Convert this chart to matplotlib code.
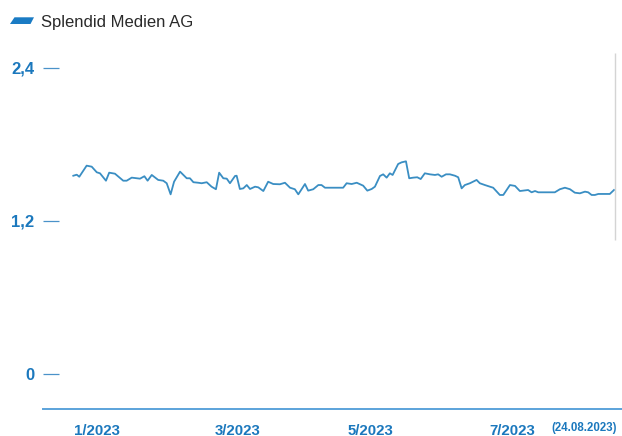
import matplotlib
matplotlib.use("Agg")
import matplotlib.pyplot as plt
import matplotlib.transforms as mtrans
from matplotlib.patches import Polygon
from matplotlib import font_manager

# ---- data (days since 2 Jan 2023, share price in EUR) ----
days = [0, 1.5, 2.6, 5.8, 8.0, 10.2, 11.6, 14.2, 15.6, 18.1, 21.7, 23.2, 25.4, 29.0,
        30.9, 32.3, 34.1, 36.9, 39.1, 40.6, 42.3, 43.8, 46.4, 49.3, 50.7, 52.2, 54.3,
        55.8, 58.0, 60.1, 62.0, 63.4, 65.2, 66.7, 68.1, 70.3, 71.0, 72.4, 73.9, 75.4,
        76.8, 79.0, 80.4, 82.6, 84.7, 86.9, 89.8, 92.0, 94.2, 96.3, 97.8, 100.7, 102.1,
        104.3, 106.5, 107.9, 109.4, 115.9, 117.3, 118.8, 121.0, 123.2, 126.0, 127.8,
        129.7, 131.1, 133.3, 134.7, 136.2, 137.6, 138.8, 141.2, 142.7, 144.6, 146.0,
        147.8, 149.5, 151.0, 152.8, 155.0, 157.2, 158.6, 160.1, 162.0, 163.7, 165.9,
        167.3, 168.8, 170.2, 172.4, 175.3, 176.7, 178.9, 181.1, 182.5, 185.4, 186.9,
        189.8, 192.0, 194.1, 197.7, 199.2, 200.7, 202.1, 209.3, 211.5, 213.7, 215.9,
        218.0, 220.2, 222.4, 223.8, 225.3, 226.7, 228.2, 233.2, 235.0]
prices = [1.555, 1.563, 1.547, 1.634, 1.626, 1.582, 1.574, 1.516, 1.579, 1.571, 1.516,
          1.516, 1.540, 1.532, 1.551, 1.516, 1.561, 1.522, 1.516, 1.496, 1.409, 1.508,
          1.587, 1.535, 1.535, 1.504, 1.500, 1.496, 1.504, 1.469, 1.449, 1.579, 1.535,
          1.532, 1.496, 1.553, 1.555, 1.451, 1.456, 1.482, 1.451, 1.469, 1.464, 1.435,
          1.508, 1.490, 1.488, 1.500, 1.461, 1.449, 1.409, 1.490, 1.438, 1.449, 1.482,
          1.482, 1.461, 1.461, 1.461, 1.496, 1.490, 1.500, 1.477, 1.438, 1.451, 1.469,
          1.553, 1.566, 1.540, 1.574, 1.561, 1.647, 1.660, 1.668, 1.535, 1.540, 1.543,
          1.529, 1.574, 1.566, 1.561, 1.566, 1.547, 1.566, 1.566, 1.555, 1.543, 1.456,
          1.482, 1.496, 1.522, 1.496, 1.482, 1.469, 1.461, 1.404, 1.404, 1.482, 1.475,
          1.435, 1.443, 1.425, 1.435, 1.425, 1.425, 1.449, 1.461, 1.449, 1.422, 1.417,
          1.430, 1.425, 1.404, 1.404, 1.412, 1.412, 1.443]
series_name = "Splendid Medien AG"
y_ticks = [0, 1.2, 2.4]
y_tick_labels = ["0", "1,2", "2,4"]
x_tick_pos = [10.2, 71.4, 129.0, 191.0]
x_tick_labels = ["1/2023", "3/2023", "5/2023", "7/2023"]
date_note = "(24.08.2023)"
date_note_pos = 221.9

# ---- fonts ----
def has_font(name):
    try:
        font_manager.findfont(name, fallback_to_default=False)
        return True
    except Exception:
        return False

base_font = "Liberation Sans" if has_font("Liberation Sans") else "DejaVu Sans"
plt.rcParams['font.family'] = [base_font, 'DejaVu Sans']

W, H = 622, 436
fig = plt.figure(figsize=(W / 100, H / 100), dpi=100)

def fx(px):
    return px / W

def fy(py):
    return 1 - py / H

ax_left, ax_right, ax_top, ax_bottom = 42.7, 622, 43.5, 409
ax = fig.add_axes([fx(ax_left), fy(ax_bottom), fx(ax_right) - fx(ax_left),
                   fy(ax_top) - fy(ax_bottom)])

blue_txt = '#1b78bd'
line_col = '#3a8ec3'

ax.plot(days, prices, color=line_col, lw=1.3, solid_joinstyle='round')
ax.vlines(days[-1] + 0.5, 1.051, 2.518, color='#d4d4d4', lw=1.0)

ax.set_xlim(-13.3, 238.5)
ax.set_ylim(-0.2745, 2.592)

for s in ['top', 'right', 'left']:
    ax.spines[s].set_visible(False)
ax.spines['bottom'].set_color('#5ba3db')
ax.spines['bottom'].set_linewidth(1.4)

ax.set_yticks(y_ticks)
ax.set_yticklabels(y_tick_labels)
ax.tick_params(axis='y', direction='in', length=11.5, width=0.9, color='#4a92c9',
               pad=6.0, labelsize=12, labelcolor=blue_txt)
for lbl in ax.get_yticklabels():
    lbl.set_fontweight('bold')

ax.set_xticks([])
tr = mtrans.blended_transform_factory(ax.transData, fig.transFigure)
for pos, lab in zip(x_tick_pos, x_tick_labels):
    ax.text(pos, fy(434.5), lab, transform=tr, ha='center', va='baseline',
            fontsize=10.8, fontweight='bold', color=blue_txt)
ax.text(date_note_pos, fy(430.5), date_note, transform=tr,
        ha='center', va='baseline', fontsize=8.3, fontweight='bold', color=blue_txt)

# legend
icon = Polygon([(fx(10), fy(24)), (fx(14.5), fy(17.3)), (fx(34), fy(17.3)), (fx(30.5), fy(24))],
               closed=True, transform=fig.transFigure, color='#1a7bc4', lw=0)
fig.patches.append(icon)
fig.text(fx(40.7), fy(27.3), series_name, ha='left', va='baseline', fontsize=12,
         color='#2a2a2a')

fig.savefig('out.png', dpi=100)
